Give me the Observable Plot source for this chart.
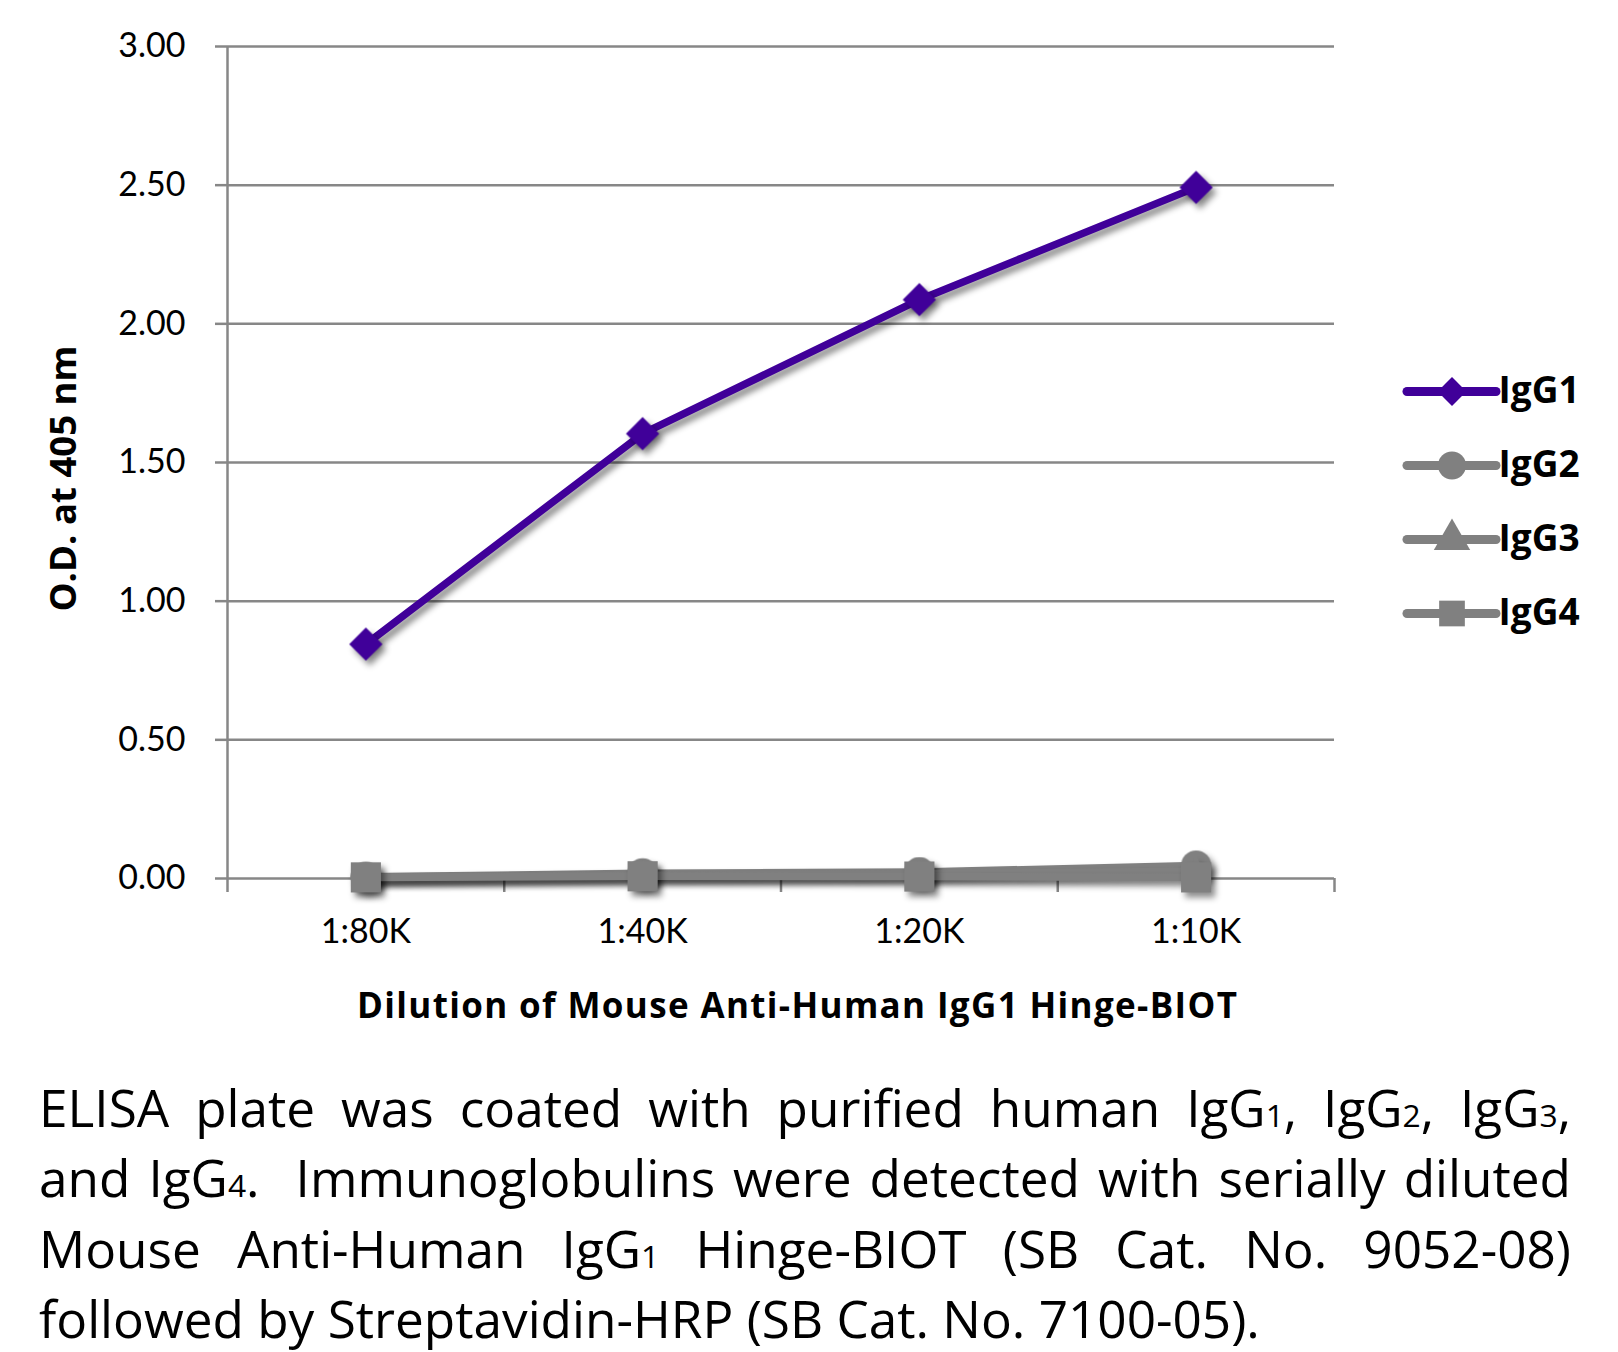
<!DOCTYPE html>
<html>
<head>
<meta charset="utf-8">
<script src="https://cdn.jsdelivr.net/npm/d3@7"></script>
<script src="https://cdn.jsdelivr.net/npm/@observablehq/plot@0.6"></script>
<style>
  html, body { margin: 0; padding: 0; background: #fff; }
  #wrap { position: relative; width: 1618px; height: 1352px; overflow: hidden; font-family: Lato, "Open Sans", sans-serif; }
  #chart { position: absolute; left: 0; top: 0; }
  #legend { position: absolute; left: 1395px; top: 360px; }
  #caption { position: absolute; left: 39px; top: 1073px; width: 1532px; font-family: "Open Sans", sans-serif; font-size: 47px; line-height: 70.5px; color: #000; }
  #caption div { text-align: justify; text-align-last: justify; white-space: nowrap; }
  #caption div.last { text-align: left; text-align-last: left; }
  #caption .s { font-size: 0.62em; line-height: 0; }
  #measure { position: absolute; left: -9999px; top: 0; white-space: nowrap; font-family: "Open Sans", sans-serif; }
</style>
</head>
<body>
<div id="wrap">
  <div id="chart"></div>
  <div id="legend"></div>
  <div id="caption">
    <div>ELISA plate was coated with purified human IgG<span class="s">1</span>, IgG<span class="s">2</span>, IgG<span class="s">3</span>,</div>
    <div>and IgG<span class="s">4</span>.&nbsp; Immunoglobulins were detected with serially diluted</div>
    <div>Mouse Anti-Human IgG<span class="s">1</span> Hinge-BIOT (SB Cat. No. 9052-08)</div>
    <div class="last">followed by Streptavidin-HRP (SB Cat. No. 7100-05).</div>
  </div>
</div>
<script>
// ---- data ----
const categories = ["1:80K", "1:40K", "1:20K", "1:10K"];
const seriesNames = ["IgG1", "IgG2", "IgG3", "IgG4"];
const igg1 = [0.845, 1.604, 2.087, 2.492];
const igg2 = [0.006, 0.019, 0.023, 0.047];
const igg3 = [0.005, 0.012, 0.016, 0.026];
const igg4 = [0.004, 0.008, 0.007, 0.004];
const yTicks = [0, 0.5, 1, 1.5, 2, 2.5, 3];
const yLabel = "O.D. at 405 nm";
const xLabel = "Dilution of Mouse Anti-Human IgG1 Hinge-BIOT";

// ---- styles ----
const seriesValues = [igg1, igg2, igg3, igg4];
const colors = ["#400099", "#808080", "#808080", "#808080"];
const symbols = ["diamond2", "circle", "triangle", "square"];
const radii = [15, 15, 9.5, 17];
const legendRadii = [13, 14, 13.5, 14.5];
const gray = "#878787";
const boldFont = "'Open Sans', Lato, sans-serif";

const rows = seriesNames.flatMap((s, si) =>
  categories.map((c, ci) => ({series: s, si, cat: c, ci, value: seriesValues[si][ci]})));

const boundaries = d3.range(categories.length + 1).map(i => i - 0.5);

const seriesMarks = seriesNames.flatMap((s, si) => {
  const d = rows.filter(r => r.si === si);
  return [
    Plot.line(d, {x: "ci", y: "value", stroke: colors[si], strokeWidth: 7.5, strokeLinejoin: "round", strokeLinecap: "round"}),
    Plot.dot(d, {x: "ci", y: "value", symbol: () => symbols[si], fill: colors[si], stroke: "none", r: radii[si]})
  ];
});

const chart = Plot.plot({
  width: 1618,
  height: 1040,
  marginLeft: 227,
  marginRight: 284,
  marginTop: 46,
  marginBottom: 162,
  style: {fontFamily: "Lato, 'Open Sans', sans-serif", background: "white", overflow: "visible"},
  x: {type: "linear", domain: [-0.5, categories.length - 0.5], axis: null},
  y: {domain: [0, 3], axis: null},
  symbol: {type: "identity"},
  marks: [
    Plot.ruleY(yTicks, {stroke: gray, strokeWidth: 2.5}),
    Plot.axisY(yTicks, {anchor: "left", tickSize: 12, tickPadding: 30, tickFormat: d3.format(".2f"), stroke: gray, strokeWidth: 2.5, fill: "#000", fontSize: 34, label: null}),
    Plot.ruleX([-0.5], {stroke: gray, strokeWidth: 2.5}),
    Plot.axisX(boundaries, {anchor: "bottom", tickSize: 14, tickFormat: () => "", stroke: gray, strokeWidth: 2.5, label: null}),
    Plot.axisX(d3.range(categories.length), {anchor: "bottom", tickSize: 0, tickPadding: 40, tickFormat: i => categories[i], fill: "#000", fontSize: 34, label: null}),
    Plot.text([yLabel], {frameAnchor: "left", dx: -163, dy: 16, rotate: -90, textAnchor: "middle", lineAnchor: "middle", text: d => d, fontSize: 36, fontWeight: "bold", fontFamily: boldFont, fill: "#000"}),
    Plot.text([xLabel], {frameAnchor: "bottom", dx: 16, dy: 128, textAnchor: "middle", lineAnchor: "middle", text: d => d, fontSize: 35, fontWeight: "bold", fontFamily: boldFont, fill: "#000"}),
    ...seriesMarks
  ]
});
document.getElementById("chart").appendChild(chart);
d3.select(chart).selectAll('g[aria-label="line"], g[aria-label="dot"]')
  .style("filter", "drop-shadow(4px 5px 3px rgba(0,0,0,0.45))");
// stretch titles to the reference lengths
d3.select(chart).selectAll('g[aria-label="text"] text').each(function() {
  const t = this.textContent;
  if (t === xLabel) { this.setAttribute("textLength", 880); this.setAttribute("lengthAdjust", "spacing"); }
  if (t === yLabel) { this.setAttribute("textLength", 266); this.setAttribute("lengthAdjust", "spacingAndGlyphs"); }
});

// ---- legend ----
const legendRows = seriesNames.map((s, si) => ({s, si}));
const legend = Plot.plot({
  width: 223,
  height: 290,
  margin: 0,
  style: {fontFamily: boldFont, background: "transparent", overflow: "visible"},
  x: {type: "linear", domain: [0, 1], range: [12, 101], axis: null},
  y: {type: "point", domain: seriesNames, range: [30, 253], padding: 0, axis: null},
  symbol: {type: "identity"},
  marks: [
    Plot.ruleY(legendRows, {y: "s", x1: 0, x2: 1, stroke: d => colors[d.si], strokeWidth: 9, strokeLinecap: "round"}),
    ...legendRows.map(d => Plot.dot([d], {x: 0.5, y: "s", symbol: () => symbols[d.si], fill: colors[d.si], r: legendRadii[d.si]})),
    Plot.text(legendRows, {x: 1, y: "s", text: "s", dx: 2, textAnchor: "start", lineAnchor: "middle", fontSize: 37, fontWeight: "bold", fill: "#000"})
  ]
});
document.getElementById("legend").appendChild(legend);

// ---- caption fit ----
(function fitCaption() {
  const cap = document.getElementById("caption");
  const lines = Array.from(cap.children);
  const m = document.createElement("span");
  m.id = "measure";
  document.body.appendChild(m);
  const widthAt = (el, fs) => { m.style.fontSize = fs + "px"; m.innerHTML = el.innerHTML; return m.getBoundingClientRect().width; };
  let fs = 47;
  const w4 = widthAt(lines[3], fs);
  fs = fs * 1221 / w4;
  const maxW = Math.max(...lines.slice(0, 3).map(l => widthAt(l, fs)));
  if (maxW > 1525) fs = fs * 1525 / maxW;
  m.remove();
  const L = 70.5;
  cap.style.fontSize = fs + "px";
  cap.style.lineHeight = L + "px";
  cap.style.top = (1127 - ((L - 1.362 * fs) / 2 + 1.069 * fs)) + "px";
})();
</script>
</body>
</html>
